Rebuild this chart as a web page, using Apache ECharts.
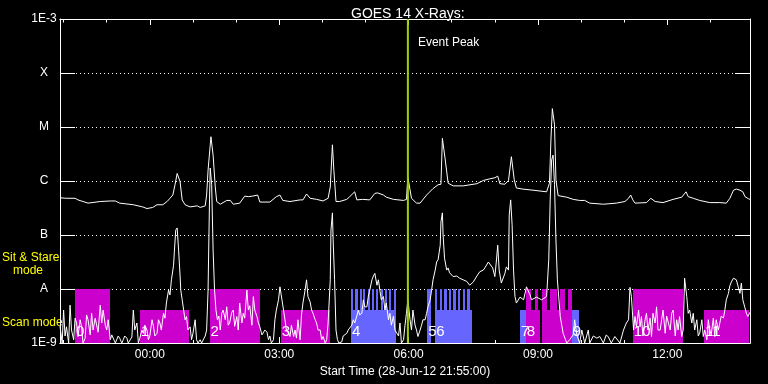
<!DOCTYPE html>
<html><head><meta charset="utf-8">
<script src="https://cdn.jsdelivr.net/npm/echarts@6/dist/echarts.min.js"></script>
<style>html,body{margin:0;padding:0;background:#000;}#c{width:768px;height:384px;}</style>
</head><body><div id="c"></div>
<script>
// ---- data ----
const titleText = 'GOES 14 X-Rays:';
const startLabel = '28-Jun-12 21:55:00';
const startMinuteOfDay = 21 * 60 + 55;          // x values are minutes after start
const xLabelMinutes = [125, 305, 485, 665, 845]; // 00:00 03:00 06:00 09:00 12:00
const hourTickMinutes = [5,65,125,185,245,305,365,425,485,545,605,665,725,785,845,905];
const yLevels = [-9, -8, -7, -6, -5, -4, -3];    // log10 flux (W/m^2)
const yLevelNames = ['1E-9', 'A', 'B', 'C', 'M', 'X', '1E-3'];
const eventPeakMinute = 484;

// long channel (1-8 A), [minute, log10 flux]
const longChannel = [[0,-6.31],[8,-6.32],[21,-6.32],[25,-6.35],[39,-6.41],[56,-6.38],[70,-6.37],[77,-6.37],[83,-6.41],[102,-6.44],[115,-6.48],[121,-6.51],[129,-6.49],[135,-6.44],[143,-6.44],[149,-6.38],[153,-6.32],[157,-6.26],[160,-6.07],[163,-5.86],[167,-6.01],[170,-6.35],[174,-6.44],[181,-6.48],[191,-6.46],[195,-6.49],[202,-6.46],[204,-6.26],[206,-5.80],[210,-5.18],[213,-5.52],[216,-6.11],[218,-6.38],[223,-6.43],[232,-6.36],[237,-6.36],[241,-6.43],[250,-6.41],[257,-6.28],[262,-6.29],[268,-6.28],[275,-6.26],[278,-6.39],[292,-6.39],[301,-6.29],[306,-6.26],[310,-6.36],[320,-6.38],[334,-6.35],[338,-6.35],[343,-6.24],[348,-6.32],[357,-6.34],[366,-6.37],[373,-6.32],[376,-6.11],[379,-5.33],[381,-5.80],[384,-6.38],[389,-6.38],[399,-6.34],[403,-6.29],[410,-6.20],[413,-6.35],[421,-6.34],[431,-6.35],[438,-6.23],[442,-6.22],[450,-6.26],[454,-6.30],[464,-6.34],[478,-6.36],[482,-6.34],[484,-5.93],[489,-6.32],[496,-6.41],[501,-6.41],[510,-6.26],[519,-6.14],[526,-6.07],[530,-6.06],[532,-5.21],[536,-5.61],[540,-6.04],[547,-6.09],[561,-6.09],[580,-6.05],[589,-5.99],[598,-5.96],[605,-5.94],[609,-5.91],[612,-6.05],[619,-6.06],[624,-5.99],[628,-5.55],[632,-5.98],[635,-6.13],[644,-6.15],[658,-6.17],[677,-6.20],[681,-6.04],[683,-5.24],[685,-4.66],[688,-4.96],[690,-5.98],[693,-6.27],[705,-6.30],[714,-6.34],[723,-6.36],[730,-6.36],[737,-6.41],[756,-6.43],[765,-6.42],[774,-6.41],[786,-6.38],[791,-6.32],[794,-6.26],[797,-6.35],[800,-6.41],[816,-6.40],[822,-6.32],[828,-6.38],[839,-6.40],[853,-6.34],[865,-6.30],[871,-6.20],[874,-6.29],[881,-6.32],[890,-6.36],[904,-6.40],[918,-6.40],[927,-6.41],[932,-6.32],[937,-6.17],[941,-6.15],[946,-6.17],[950,-6.20],[953,-6.29],[958,-6.33],[960,-6.34]];

// short channel (0.5-4 A), [minute, log10 flux]
const shortChannel = [[0,-8.69],[3,-9.00],[5,-8.39],[7,-8.87],[9,-8.70],[12,-9.00],[14,-8.30],[16,-8.76],[19,-8.94],[21,-8.54],[23,-8.63],[25,-8.88],[28,-8.57],[30,-8.70],[32,-9.00],[35,-8.91],[37,-8.48],[39,-8.57],[42,-8.85],[44,-8.45],[46,-8.76],[49,-8.54],[51,-8.51],[53,-8.80],[56,-8.30],[58,-8.63],[60,-8.39],[63,-8.67],[65,-8.76],[67,-8.57],[70,-8.94],[72,-8.85],[74,-8.82],[77,-9.00],[79,-8.98],[81,-8.87],[83,-8.91],[86,-9.00],[88,-8.94],[90,-8.87],[93,-8.91],[95,-9.00],[97,-8.98],[100,-8.89],[102,-8.39],[104,-8.76],[107,-8.63],[109,-9.00],[111,-8.91],[114,-8.76],[116,-8.82],[118,-8.67],[121,-8.76],[123,-8.94],[125,-8.87],[128,-8.57],[130,-8.69],[132,-8.87],[135,-8.82],[137,-8.57],[139,-8.63],[141,-8.76],[144,-8.45],[146,-8.54],[148,-8.26],[151,-8.02],[153,-8.11],[155,-7.83],[158,-7.56],[159,-7.33],[161,-6.91],[163,-6.87],[165,-7.28],[167,-7.74],[168,-8.02],[170,-8.20],[172,-8.39],[174,-8.57],[176,-8.51],[178,-8.76],[181,-8.70],[183,-8.94],[185,-8.82],[188,-8.57],[190,-8.94],[192,-9.00],[195,-8.94],[197,-9.00],[199,-8.98],[202,-8.87],[204,-8.76],[206,-8.02],[208,-6.35],[209,-5.76],[211,-6.07],[213,-7.28],[215,-8.02],[217,-8.39],[219,-8.57],[221,-8.50],[223,-8.76],[225,-8.45],[227,-8.39],[230,-8.57],[232,-8.33],[234,-8.67],[236,-8.63],[239,-8.43],[241,-8.39],[243,-8.69],[246,-8.51],[248,-8.76],[250,-8.26],[253,-8.63],[255,-8.45],[257,-8.54],[260,-8.02],[262,-8.39],[264,-8.31],[267,-8.67],[269,-8.14],[271,-8.39],[274,-8.51],[276,-8.63],[278,-8.70],[281,-8.85],[283,-8.88],[285,-8.76],[288,-8.80],[290,-8.94],[292,-8.87],[294,-9.00],[297,-8.94],[299,-8.57],[301,-8.39],[304,-8.20],[306,-7.96],[308,-7.98],[311,-8.39],[313,-8.57],[315,-8.76],[318,-8.82],[320,-8.88],[322,-8.67],[325,-8.88],[327,-8.76],[329,-8.91],[331,-8.57],[334,-8.94],[336,-8.48],[338,-8.26],[341,-8.02],[343,-7.83],[345,-8.14],[348,-8.24],[350,-8.39],[352,-8.45],[355,-8.57],[357,-8.63],[359,-8.76],[362,-8.76],[364,-8.94],[366,-8.88],[369,-9.00],[371,-8.94],[373,-8.63],[376,-7.83],[377,-6.91],[379,-6.59],[380,-7.09],[382,-7.83],[384,-8.76],[386,-8.94],[388,-9.00],[392,-8.98],[394,-8.87],[396,-8.88],[399,-8.82],[401,-8.76],[403,-8.76],[406,-8.67],[408,-8.57],[410,-8.63],[413,-8.50],[415,-8.39],[417,-8.48],[420,-8.45],[422,-8.20],[424,-8.33],[427,-8.33],[429,-8.13],[431,-8.02],[434,-7.83],[436,-7.76],[438,-7.71],[441,-7.93],[443,-7.83],[445,-8.02],[447,-8.20],[450,-8.14],[452,-8.39],[454,-8.26],[457,-8.57],[459,-8.45],[461,-8.67],[464,-8.50],[466,-8.76],[468,-8.76],[471,-8.87],[473,-8.63],[475,-9.00],[478,-8.94],[480,-8.67],[482,-8.45],[484,-8.20],[487,-8.57],[489,-8.76],[491,-8.39],[494,-8.67],[496,-8.76],[498,-8.88],[501,-8.76],[503,-8.67],[505,-8.57],[508,-8.57],[510,-8.45],[512,-8.33],[515,-8.20],[517,-8.02],[519,-7.83],[522,-7.65],[524,-7.50],[526,-7.46],[529,-7.19],[530,-6.76],[532,-6.59],[533,-7.00],[535,-7.43],[538,-7.65],[540,-7.61],[542,-7.70],[547,-7.77],[552,-7.76],[556,-7.80],[561,-7.83],[566,-7.86],[570,-7.93],[575,-7.87],[580,-7.76],[584,-7.68],[589,-7.65],[591,-7.61],[596,-7.50],[598,-7.49],[602,-7.61],[605,-7.77],[607,-7.50],[609,-7.19],[611,-7.65],[614,-7.89],[619,-7.71],[621,-7.59],[624,-7.65],[625,-6.63],[627,-6.35],[629,-6.81],[631,-7.65],[633,-8.14],[635,-8.26],[640,-8.15],[645,-8.20],[649,-7.96],[654,-8.11],[656,-8.20],[663,-8.15],[670,-8.20],[677,-8.14],[680,-7.46],[682,-6.35],[684,-5.61],[686,-5.52],[688,-6.07],[690,-7.09],[692,-7.83],[696,-8.51],[700,-8.82],[705,-9.00],[709,-8.94],[714,-8.85],[716,-8.57],[719,-8.85],[723,-9.00],[726,-8.76],[730,-9.00],[735,-8.76],[737,-9.00],[742,-8.87],[747,-8.91],[751,-8.88],[756,-9.00],[760,-8.85],[763,-8.89],[767,-9.00],[772,-8.88],[774,-8.88],[779,-9.00],[784,-8.76],[786,-8.76],[788,-8.63],[791,-8.57],[793,-7.97],[795,-8.14],[798,-8.76],[800,-8.51],[802,-8.70],[805,-8.39],[807,-8.70],[809,-8.51],[811,-8.87],[814,-8.57],[816,-8.45],[818,-8.76],[821,-8.54],[823,-8.88],[825,-8.45],[828,-8.63],[830,-8.33],[832,-8.76],[835,-8.76],[837,-8.57],[839,-8.39],[842,-8.82],[844,-8.50],[846,-8.51],[849,-8.76],[851,-8.45],[853,-8.39],[856,-8.87],[858,-8.57],[860,-8.76],[862,-8.51],[865,-8.88],[867,-8.76],[869,-7.80],[872,-8.14],[874,-8.45],[876,-8.39],[879,-8.63],[881,-8.45],[883,-8.76],[886,-8.57],[888,-8.87],[890,-8.82],[893,-8.57],[895,-8.88],[897,-8.76],[900,-8.94],[902,-8.57],[904,-8.76],[906,-8.85],[909,-8.54],[911,-8.88],[913,-8.57],[916,-8.76],[918,-8.76],[920,-8.50],[923,-8.54],[925,-8.39],[927,-8.20],[930,-8.08],[932,-7.94],[934,-7.87],[937,-7.80],[939,-7.83],[941,-7.83],[944,-7.98],[946,-8.08],[948,-7.89],[950,-8.20],[953,-8.35],[955,-8.45],[957,-8.51],[960,-8.43]];

// observation blocks
const blockLabels = ['0','1','2','3','4','5','6','7','8','','9','10','11'];
const blockStart  = [21, 111, 208, 307, 405, 511, 522, 640, 648, 671, 712, 797, 896];
const blockEnd    = [69, 179, 278, 376, 468, 516, 573, 648, 668, 712, 722, 867, 959];
const blockMode   = ['stare','scan','stare','scan','scan','stare','scan','scan','scan','scan','scan','stare','scan'];
const blockGroup  = [0, 0, 0, 0, 1, 1, 1, 1, 0, 0, 1, 0, 0];
// short sit-and-stare intervals inside scan blocks
const stripeStart = [405,411,417,422,428,434,440,446,452,458,464, 522,528,534,541,547,554,560,566, 648,661,671,682,695,707];
const stripeEnd   = [408,414,420,425,431,437,443,449,455,461,467, 525,531,538,544,551,557,563,570, 655,665,677,692,702,712];
const stripeGroup = [1,1,1,1,1,1,1,1,1,1,1, 1,1,1,1,1,1,1,1, 0,0,0,0,0,0];
const modeTop = { stare: -8.0, scan: -8.39 };

// ---- styles ----
const groupColors = ['#cc00cc', '#6666ff'];
const FONT = 'Liberation Sans';

function fmtTime(v) {
  const m = ((startMinuteOfDay + Math.round(v)) % 1440 + 1440) % 1440;
  const h = Math.floor(m / 60), mm = m % 60;
  return String(h).padStart(2, '0') + ':' + String(mm).padStart(2, '0');
}

const rectData = [];
blockStart.forEach((s, i) => rectData.push([s, blockEnd[i], modeTop[blockMode[i]], blockGroup[i]]));
stripeStart.forEach((s, i) => rectData.push([s, stripeEnd[i], modeTop.stare, stripeGroup[i]]));
const labelData = blockStart.map((s, i) => [s, -9, i]).filter(d => blockLabels[d[2]] !== '');

const chart = echarts.init(document.getElementById('c'), null, { renderer: 'canvas' });
const axisColor = '#ffffff';
function xAx(pos, ticks, len, extra) {
  return Object.assign({
    type: 'value', min: 0, max: 960, position: pos,
    axisLine: { show: true, onZero: false, lineStyle: { color: axisColor, width: 1 } },
    axisTick: { show: true, inside: true, length: len, customValues: ticks, lineStyle: { color: axisColor } },
    axisLabel: { show: false },
    splitLine: { show: false }
  }, extra || {});
}
chart.setOption({
  animation: false,
  backgroundColor: '#000000',
  title: { text: titleText, left: 346, top: 2, textStyle: { color: '#fff', fontSize: 14, fontWeight: 'normal', fontFamily: FONT } },
  grid: { left: 60, right: 18, top: 19, bottom: 41, containLabel: false },
  xAxis: [
    xAx('bottom', xLabelMinutes, 6, {
      axisLabel: { show: true, customValues: xLabelMinutes, formatter: fmtTime, color: '#fff', fontSize: 12, fontFamily: FONT, margin: 6 },
      name: 'Start Time (' + startLabel + ')', nameLocation: 'middle', nameGap: 19,
      nameTextStyle: { color: '#fff', fontSize: 12, fontFamily: FONT }
    }),
    xAx('bottom', hourTickMinutes, 3),
    xAx('top', xLabelMinutes, 6),
    xAx('top', hourTickMinutes, 3.5)
  ],
  yAxis: [
    { type: 'value', min: -9, max: -3, interval: 1, position: 'left',
      axisLine: { show: true, onZero: false, lineStyle: { color: axisColor } },
      axisTick: { show: true, inside: true, length: 15, lineStyle: { color: axisColor } },
      axisLabel: { color: '#fff', fontSize: 12, fontFamily: FONT, align: 'center', margin: 16,
        formatter: v => yLevelNames[yLevels.indexOf(Math.round(v))] },
      splitLine: { show: true, lineStyle: { color: '#fff', width: 1, type: [1, 3] } } },
    { type: 'value', min: -9, max: -3, interval: 1, position: 'right',
      axisLine: { show: true, onZero: false, lineStyle: { color: axisColor } },
      axisTick: { show: true, inside: true, length: 15, lineStyle: { color: axisColor } },
      axisLabel: { show: false }, splitLine: { show: false } }
  ],
  graphic: [
    { type: 'text', left: 2, top: 252, style: { text: 'Sit & Stare', fill: '#ffff00', font: '12px ' + FONT } },
    { type: 'text', left: 13, top: 265, style: { text: 'mode', fill: '#ffff00', font: '12px ' + FONT } },
    { type: 'text', left: 2, top: 317, style: { text: 'Scan mode', fill: '#ffff00', font: '12px ' + FONT } }
  ],
  series: [
    { type: 'custom', name: 'blocks', xAxisIndex: 0, yAxisIndex: 0, z: 1,
      encode: { x: [0, 1], y: 2 }, data: rectData, silent: true,
      renderItem: (params, api) => {
        const p0 = api.coord([api.value(0), api.value(2)]);
        const p1 = api.coord([api.value(1), -9]);
        const x0 = Math.round(p0[0]), x1 = Math.round(p1[0]);
        return { type: 'rect', shape: { x: x0, y: Math.round(p0[1]), width: x1 - x0, height: Math.round(p1[1]) - Math.round(p0[1]) },
          style: { fill: groupColors[api.value(3)] } };
      } },
    { type: 'custom', name: 'blockLabels', xAxisIndex: 0, yAxisIndex: 0, z: 2,
      encode: { x: 0, y: 1 }, data: labelData, silent: true,
      renderItem: (params, api) => {
        const p = api.coord([api.value(0), api.value(1)]);
        return { type: 'text', style: { text: blockLabels[api.value(2)], x: p[0] + 1, y: p[1] - 4,
          fill: '#fff', font: '15px ' + FONT, textAlign: 'left', textVerticalAlign: 'bottom', align: 'left', verticalAlign: 'bottom' } };
      } },
    { type: 'line', name: 'short', data: shortChannel, showSymbol: false, symbol: 'none', z: 3,
      lineStyle: { color: '#fff', width: 1 }, silent: true },
    { type: 'line', name: 'long', data: longChannel, showSymbol: false, symbol: 'none', z: 3,
      lineStyle: { color: '#fff', width: 1 }, silent: true },
    { type: 'custom', name: 'eventPeak', xAxisIndex: 0, yAxisIndex: 0, z: 5,
      encode: { x: 0 }, data: [[eventPeakMinute]], silent: true,
      renderItem: (params, api) => {
        const top = api.coord([api.value(0), -3]);
        const bot = api.coord([api.value(0), -9]);
        return { type: 'group', children: [
          { type: 'line', shape: { x1: top[0], y1: top[1], x2: bot[0], y2: bot[1] }, style: { stroke: '#a0d000', lineWidth: 2 } },
          { type: 'text', style: { text: 'Event Peak', x: top[0] + 10, y: top[1] + 24, fill: '#fff', font: '12px ' + FONT,
            textAlign: 'left', textVerticalAlign: 'middle', align: 'left', verticalAlign: 'middle' } }
        ] };
      } }
  ]
});
</script></body></html>
